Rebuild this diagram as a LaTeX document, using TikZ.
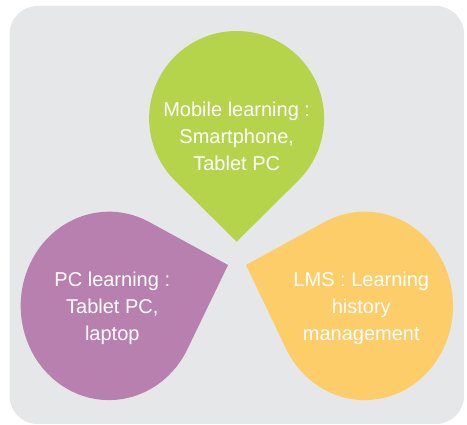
\documentclass[tikz,border=0pt]{standalone}
\usepackage{fontspec}
\setmainfont{Liberation Sans}
\definecolor{bggray}{HTML}{E6E7E8}
\definecolor{leafgreen}{HTML}{B5D44C}
\definecolor{leafpurple}{HTML}{B880AE}
\definecolor{leafyellow}{HTML}{FDCD6A}
\tikzset{
  panel/.style={fill=bggray, rounded corners=28pt},
  label/.style={anchor=base, inner sep=0pt, text=white, font=\fontsize{20}{26.8}\selectfont}
}
\newcommand{\threelines}[3]{\begin{tabular}[t]{@{}c@{}}#1\\#2\\#3\end{tabular}}
\begin{document}
\begin{tikzpicture}[x=1pt,y=1pt]
\useasboundingbox (0,0) rectangle (467,425);
\fill[panel] (9.5,1) rectangle (464,419);
% green drop (points down)
\begin{scope}[shift={(236.6,306.5)}]
  \fill[leafgreen] (0.1,-123.2) coordinate (gtip) -- (-45.25:87.5pt) arc[start angle=-45.25, end angle=225.25, radius=87.5pt] -- cycle;
\end{scope}
% purple drop (points up-right)
\begin{scope}[shift={(109,119.1)}, yscale=1.0668]
  \fill[leafpurple] (119,38.34) coordinate (ptip) -- (62.92:88.3pt) arc[start angle=62.92, end angle=332.8, radius=88.3pt] -- cycle;
\end{scope}
% yellow drop (points up-left)
\begin{scope}[shift={(364.7,119.1)}, yscale=1.0668]
  \fill[leafyellow] (-118.7,38.34) coordinate (ytip) -- (207.2:88.3pt) arc[start angle=207.2, end angle=477.08, radius=88.3pt] -- cycle;
\end{scope}
\node[label] (gtext) at (236.7,308.3) {\threelines{Mobile learning :}{Smartphone,}{Tablet PC}};
\node[label] (ptext) at (112.3,138) {\threelines{PC learning :}{Tablet PC,}{laptop}};
\node[label] (ytext) at (361.3,138) {\threelines{LMS : Learning}{history}{management}};
\end{tikzpicture}
\end{document}
